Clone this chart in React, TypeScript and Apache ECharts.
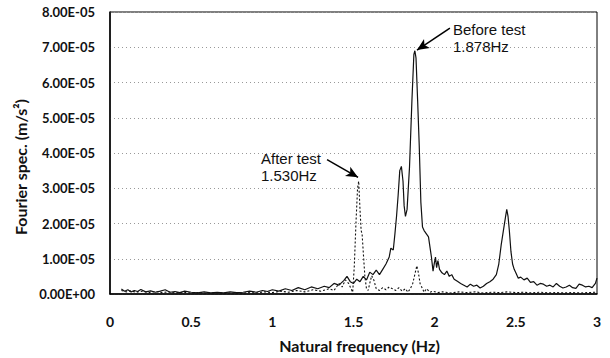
import React, { useEffect, useRef } from "react";
import * as echarts from "echarts";

// Natural frequency (Hz) and Fourier spectrum values in units of 1e-5 m/s^2
const beforeFreq = [
  0.07, 0.09, 0.11, 0.13, 0.15, 0.17, 0.19, 0.22, 0.25, 0.28, 0.31, 0.34, 0.37, 0.4, 0.43, 0.46, 0.5, 0.54, 0.58,
  0.62, 0.66, 0.7, 0.74, 0.78, 0.82, 0.86, 0.9, 0.94, 0.97, 1.0, 1.04, 1.08, 1.12, 1.16, 1.2, 1.24, 1.28, 1.32,
  1.35, 1.38, 1.41, 1.44, 1.46, 1.48, 1.5, 1.52, 1.54, 1.56, 1.58, 1.6, 1.62, 1.64, 1.66, 1.68, 1.7, 1.72, 1.73,
  1.745, 1.755, 1.765, 1.775, 1.785, 1.795, 1.805, 1.812, 1.82, 1.83, 1.845, 1.86, 1.872, 1.878, 1.885, 1.895,
  1.905, 1.915, 1.925, 1.935, 1.95, 1.962, 1.972, 1.98, 1.99, 1.997, 2.005, 2.012, 2.02, 2.03, 2.045, 2.06, 2.075,
  2.09, 2.105, 2.12, 2.14, 2.16, 2.18, 2.2, 2.22, 2.24, 2.26, 2.28, 2.3, 2.32, 2.34, 2.36, 2.38, 2.395, 2.41,
  2.425, 2.437, 2.444, 2.452, 2.46, 2.47, 2.48, 2.49, 2.5, 2.515, 2.53, 2.55, 2.57, 2.59, 2.61, 2.63, 2.65, 2.67,
  2.69, 2.71, 2.73, 2.75, 2.77, 2.79, 2.81, 2.83, 2.85, 2.87, 2.89, 2.91, 2.93, 2.95, 2.97, 2.99, 3.0,
];
const beforeSpecE5 = [
  0.14, 0.08, 0.12, 0.06, 0.1, 0.07, 0.13, 0.06, 0.09, 0.05, 0.08, 0.12, 0.05, 0.07, 0.04, 0.08, 0.05, 0.03, 0.06,
  0.03, 0.05, 0.03, 0.06, 0.04, 0.05, 0.08, 0.05, 0.1, 0.07, 0.12, 0.08, 0.15, 0.1, 0.18, 0.12, 0.2, 0.15, 0.22,
  0.18, 0.3, 0.25, 0.38, 0.5, 0.35, 0.3, 0.42, 0.35, 0.5, 0.4, 0.62, 0.55, 0.68, 0.55, 0.7, 0.85, 1.05, 1.3,
  1.25, 1.7, 2.2, 2.8, 3.5, 3.62, 3.2, 2.5, 2.2, 2.4, 3.6, 5.5, 6.8, 6.9, 6.7, 5.5,
  4.2, 2.6, 1.9, 1.8, 1.7, 1.62, 1.3, 1.05, 0.65, 0.85, 1.05, 0.75, 0.95, 0.7, 0.6, 0.55, 0.65,
  0.5, 0.55, 0.42, 0.36, 0.3, 0.25, 0.2, 0.28, 0.22, 0.25, 0.17, 0.22, 0.3, 0.35, 0.42, 0.55, 0.85, 1.4,
  1.85, 2.2, 2.4, 2.2, 1.8, 1.2, 0.85, 0.7, 0.6, 0.45, 0.48, 0.4, 0.45, 0.33, 0.35, 0.25, 0.3, 0.28,
  0.22, 0.25, 0.2, 0.3, 0.22, 0.17, 0.2, 0.25, 0.18, 0.16, 0.28, 0.25, 0.2, 0.22, 0.18, 0.3, 0.45,
];

const afterFreq = [
  0.07, 0.1, 0.13, 0.16, 0.2, 0.24, 0.28, 0.32, 0.36, 0.4, 0.45, 0.5, 0.55, 0.6, 0.65, 0.7, 0.75, 0.8, 0.85, 0.9,
  0.95, 1.0, 1.05, 1.1, 1.15, 1.2, 1.25, 1.3, 1.35, 1.38, 1.41, 1.43, 1.45, 1.47, 1.485, 1.495, 1.505, 1.515,
  1.525, 1.532, 1.54, 1.547, 1.553, 1.56, 1.57, 1.58, 1.59, 1.6, 1.612, 1.625, 1.64, 1.66, 1.68, 1.7, 1.72, 1.74,
  1.76, 1.78, 1.8, 1.82, 1.835, 1.85, 1.865, 1.88, 1.89, 1.9, 1.91, 1.92, 1.935, 1.95, 1.97, 1.99, 2.02, 2.05,
  2.1, 2.15, 2.2, 2.25, 2.3, 2.35, 2.4, 2.45, 2.5, 2.55, 2.6, 2.65, 2.7, 2.75, 2.8, 2.85, 2.9, 2.95, 3.0,
];
const afterSpecE5 = [
  0.1, 0.06, 0.09, 0.05, 0.08, 0.04, 0.07, 0.04, 0.06, 0.03, 0.05, 0.03, 0.04, 0.02, 0.04, 0.02, 0.03, 0.02, 0.04, 0.03,
  0.06, 0.04, 0.08, 0.05, 0.1, 0.06, 0.12, 0.08, 0.15, 0.1, 0.3, 0.2, 0.4, 0.3, 0.15, 0.05, 0.8, 2.0,
  3.0, 3.2, 2.4, 1.8, 1.7, 1.2, 0.5, 0.15, 0.1, 0.3, 0.52, 0.4, 0.15, 0.1, 0.18, 0.12, 0.2, 0.15,
  0.1, 0.18, 0.08, 0.15, 0.05, 0.15, 0.3, 0.6, 0.8, 0.6, 0.3, 0.2, 0.05, 0.15, 0.05, 0.08, 0.04, 0.06,
  0.03, 0.06, 0.04, 0.06, 0.03, 0.05, 0.04, 0.06, 0.04, 0.05, 0.03, 0.05, 0.03, 0.04, 0.03, 0.04, 0.03, 0.04, 0.05,
];

const UNIT = 1e-5;
const yTickMax = 8e-5;
const yTickInterval = 1e-5;

// Annotation arrows: [tail freq, tail value(E-5)], [head freq, head value(E-5)]
const beforeArrow = [[2.094, 7.54], [1.891, 6.92]];
const afterArrow = [[1.337, 3.81], [1.528, 3.31]];

const fmtY = (v: number) => {
  if (v === 0) return "0.00E+00";
  const n = Math.round(v / UNIT);
  return `${n.toFixed(2)}E-05`;
};

export default function App() {
  const ref = useRef<HTMLDivElement>(null);
  useEffect(() => {
    if (!ref.current) return;
    const chart = echarts.init(ref.current, undefined, { renderer: "svg" });
    const before = beforeFreq.map((f, i) => [f, beforeSpecE5[i] * UNIT]);
    const after = afterFreq.map((f, i) => [f, afterSpecE5[i] * UNIT]);
    const arrowLine = (a: number[][]) => [
      { coord: [a[0][0], a[0][1] * UNIT] },
      { coord: [a[1][0], a[1][1] * UNIT] },
    ];
    const font = "Lato, 'Open Sans', sans-serif";
    chart.setOption({
      animation: false,
      backgroundColor: "#fff",
      grid: {
        left: 110,
        right: 13,
        top: 12,
        bottom: 63,
        show: true,
        borderColor: "#000",
        borderWidth: 1,
      },
      xAxis: {
        type: "value",
        min: 0,
        max: 3,
        interval: 0.5,
        name: "Natural frequency (Hz)",
        nameLocation: "middle",
        nameGap: 43,
        nameTextStyle: { fontFamily: font, fontWeight: "bold", fontSize: 16, color: "#111", padding: [0, 0, 0, 12] },
        axisLine: { show: true, lineStyle: { color: "#000", width: 1.5 } },
        axisTick: { show: false },
        splitLine: { show: false },
        axisLabel: {
          fontFamily: font,
          fontWeight: "bold",
          fontSize: 14,
          color: "#111",
          margin: 20,
          formatter: (v: number) => String(v),
        },
      },
      yAxis: {
        type: "value",
        min: 0,
        max: yTickMax,
        interval: yTickInterval,
        name: "Fourier spec. (m/s²)",
        nameLocation: "middle",
        nameGap: 80,
        nameTextStyle: { fontFamily: font, fontWeight: "bold", fontSize: 16, color: "#111", padding: [0, 28, 0, 0] },
        axisLine: { show: true, lineStyle: { color: "#000", width: 1.5 } },
        axisTick: { show: false },
        splitLine: { show: true, lineStyle: { color: "#999", type: [1, 3], width: 1 } },
        axisLabel: {
          fontFamily: font,
          fontWeight: "bold",
          fontSize: 13,
          color: "#111",
          margin: 15,
          formatter: fmtY,
        },
      },
      series: [
        {
          name: "Before test",
          type: "line",
          data: before,
          symbol: "none",
          lineStyle: { color: "#111", width: 1.2 },
          markLine: {
            silent: true,
            symbol: ["none", "arrow"],
            symbolSize: [8, 12],
            label: { show: false },
            lineStyle: { color: "#000", width: 1.5, type: "solid" },
            data: [arrowLine(beforeArrow)],
          },
          z: 3,
        },
        {
          name: "After test",
          type: "line",
          data: after,
          symbol: "none",
          lineStyle: { color: "#111", width: 1.1, type: [2, 2] },
          markLine: {
            silent: true,
            symbol: ["none", "arrow"],
            symbolSize: [8, 12],
            label: { show: false },
            lineStyle: { color: "#000", width: 1.5, type: "solid" },
            data: [arrowLine(afterArrow)],
          },
          z: 2,
        },
      ],
      graphic: [
        {
          type: "text",
          left: 453,
          top: 21,
          style: {
            text: "Before test\n1.878Hz",
            font: "15px 'Liberation Sans', Arial, sans-serif",
            fill: "#111",
            lineHeight: 17,
          },
          z: 10,
        },
        {
          type: "text",
          left: 261,
          top: 150,
          style: {
            text: "After test\n1.530Hz",
            font: "15px 'Liberation Sans', Arial, sans-serif",
            fill: "#111",
            lineHeight: 17,
          },
          z: 10,
        },
      ],
    });
    return () => chart.dispose();
  }, []);
  return (
    <div
      ref={ref}
      style={{ position: "fixed", left: 0, top: 0, width: 610, height: 358 }}
    />
  );
}
